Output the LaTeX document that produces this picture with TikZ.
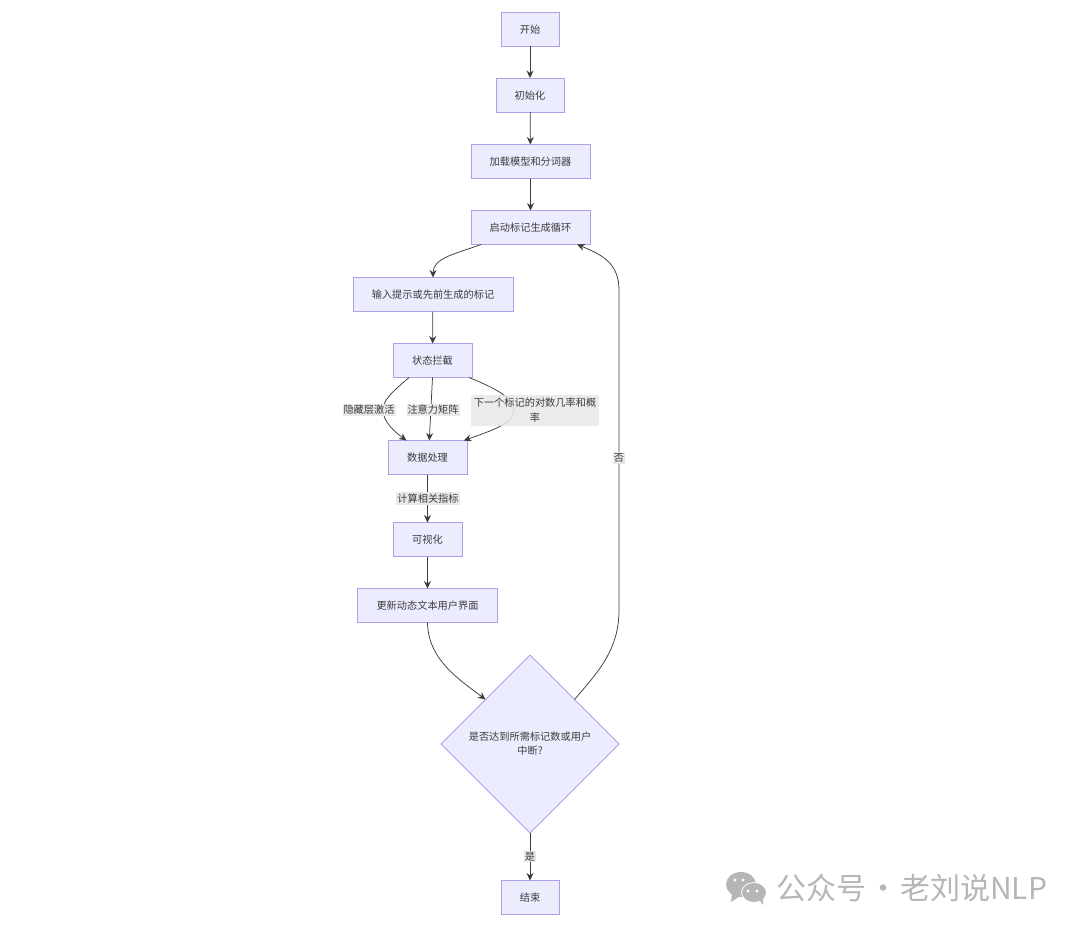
\documentclass[tikz,border=0pt]{standalone}
\usepackage{fontspec}
\setmainfont{Noto Sans CJK SC}
\usetikzlibrary{arrows.meta,positioning,calc,shapes.geometric}
\definecolor{boxfill}{RGB}{236,236,255}
\definecolor{boxline}{RGB}{178,158,230}
\definecolor{inkcolor}{RGB}{60,60,60}
\definecolor{lblfill}{RGB}{232,232,232}
\definecolor{markcolor}{RGB}{182,182,182}
\tikzset{
  stepbox/.style={draw=boxline, fill=boxfill, line width=0.9pt, text=inkcolor, minimum height=34pt,
    inner sep=0pt, outer sep=0pt, text depth=1.5pt, text height=10pt, font=\fontsize{10.2}{14}\selectfont},
  askbox/.style={draw=boxline, fill=boxfill, line width=0.9pt, text=inkcolor, inner sep=0pt, outer sep=0pt,
    diamond, aspect=1, minimum width=178pt, minimum height=178pt, align=center,
    font=\fontsize{10.2}{14}\selectfont},
  flowln/.style={-{Stealth[length=7.5pt,width=7pt]}, line width=0.75pt, draw=inkcolor},
  lbl/.style={fill=lblfill, text=inkcolor, inner xsep=1pt, inner ysep=1.5pt, outer sep=0pt,
    align=center, font=\fontsize{10.2}{15}\selectfont},
}
\begin{document}
\begin{tikzpicture}[x=1pt, y=-1pt]
    \useasboundingbox (0,0) rectangle (1080,932);
    \node[stepbox, minimum width=58pt] (start) at (530,29) {开始};
    \node[stepbox, minimum width=68pt] (init) at (530,95) {初始化};
    \node[stepbox, minimum width=119pt] (load) at (530.5,161.5) {加载模型和分词器};
    \node[stepbox, minimum width=119pt] (loop) at (530.5,227.5) {启动标记生成循环};
    \node[stepbox, minimum width=160pt] (input) at (433,294.5) {输入提示或先前生成的标记};
    \node[stepbox, minimum width=79pt] (hook) at (432.5,360.5) {状态拦截};
    \node[stepbox, minimum width=79pt] (proc) at (427.5,457.5) {数据处理};
    \node[stepbox, minimum width=69pt] (vis) at (427.5,539.5) {可视化};
    \node[stepbox, minimum width=140pt] (update) at (427.5,605.5) {更新动态文本用户界面};
    \node[askbox] (ask) at (530,744) {是否达到所需标记数或用户\\中断?};
    \node[stepbox, minimum width=58pt] (finish) at (530,897.5) {结束};
    % straight steps
    \draw[flowln] (start) -- (init);
    \draw[flowln] (init) -- (load);
    \draw[flowln] (load) -- (loop);
    \draw[flowln] (input) -- (hook);
    \draw[flowln] (proc) -- (vis);
    \draw[flowln] (vis) -- (update);
    \draw[flowln] (ask) -- (finish);
    % curved steps
    \draw[flowln] (loop.199) .. controls (455,254) and (433,258) .. (input.north);
    \draw[flowln] (hook.216) .. controls (392,392) and (383,400) .. (383,410)
      .. controls (383,422) and (395,432) .. (proc.141);
    \draw[flowln] (hook.south) -- (proc.84);
    \draw[flowln] (hook.-25) .. controls (495,388) and (514,398) .. (514,410)
      .. controls (514,424) and (490,431) .. (proc.25);
    \draw[flowln] (update.south) .. controls (428,660) and (460,680) .. (ask.north west);
    \coordinate (backlow) at (619,610);
    \coordinate (backhigh) at (619,290);
    \draw[flowln] (ask.north east) .. controls (598,672) and (619,650) .. (backlow)
      -- (backhigh) .. controls (619,262) and (600,254) .. (loop.-20);
    % edge labels
    \node[lbl] (lblhidden) at (369,410) {隐藏层激活};
    \node[lbl] (lblattn) at (433,410) {注意力矩阵};
    \node[lbl, fill opacity=0.88, text opacity=1, minimum width=128pt, minimum height=31pt] (lbllogit) at (535,410) {下一个标记的对数几率和概\\率};
    \node[lbl] (lblcalc) at (428,498.5) {计算相关指标};
    \node[lbl] (lblno) at (619,458) {否};
    \node[lbl] (lblyes) at (530,856.5) {是};
    % watermark
    \fill[markcolor] (741,884.5) ellipse (15pt and 12.5pt);
    \fill[markcolor] (732,893) -- (731,902) -- (740,896) -- cycle;
    \fill[markcolor, draw=white, line width=0.8pt] (754,892.5) ellipse (12.5pt and 10pt);
    \fill[markcolor] (759,899) -- (763,905) -- (763,896) -- cycle;
    \foreach \x/\y in {735/880, 743/880, 748/891, 757/891} {
      \fill[white] (\x,\y) circle (1.6pt);
    }
    \node[text=markcolor, inner sep=0pt, anchor=west, font=\fontsize{30}{32}\selectfont] (mark) at (776,888) {公众号\kern2pt·\kern2pt老刘说NLP};
\end{tikzpicture}
\end{document}
